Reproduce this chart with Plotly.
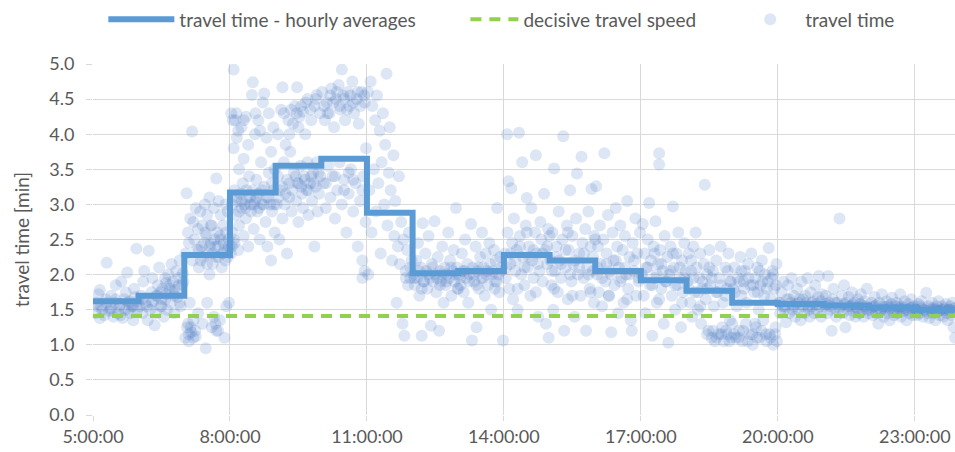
import plotly.graph_objects as go

# ---------------- data ----------------
hour_starts = [5, 6, 7, 8, 9, 10, 11, 12, 13, 14, 15, 16, 17, 18, 19, 20, 21, 22, 23]
hourly_avg = [1.62, 1.70, 2.28, 3.17, 3.55, 3.65, 2.88, 2.02, 2.05, 2.28, 2.20, 2.05,
              1.92, 1.77, 1.60, 1.58, 1.56, 1.53, 1.50]
decisive_value = 1.41
x_start, x_end = 5, 24

tick_hours = [5, 8, 11, 14, 17, 20, 23]
tick_labels = ["5:00:00", "8:00:00", "11:00:00", "14:00:00", "17:00:00", "20:00:00", "23:00:00"]
y_ticks = [0.0, 0.5, 1.0, 1.5, 2.0, 2.5, 3.0, 3.5, 4.0, 4.5, 5.0]

# travel time observations (hour of day, minutes), read per hour from the picture
obs_05 = [(5.05,1.45),(5.1,1.55),(5.12,1.72),(5.15,1.78),(5.2,1.5),(5.25,1.42),(5.3,2.17),(5.3,1.6),
          (5.35,1.48),(5.4,1.52),(5.45,1.4),(5.5,1.65),(5.5,1.85),(5.55,1.45),(5.6,1.58),(5.62,1.9),
          (5.65,1.38),(5.7,1.5),(5.72,1.75),(5.75,2.03),(5.8,1.62),(5.82,1.45),(5.85,1.55),(5.88,1.35),
          (5.9,1.8),(5.92,1.68),(5.95,2.37),(5.97,1.5),(5.4,1.7),(5.6,1.42),(5.15,1.38),(5.78,1.5)]
obs_06 = [(6.02,1.55),(6.05,1.7),(6.08,1.45),(6.1,1.9),(6.12,2.05),(6.15,1.6),(6.2,1.35),(6.22,2.34),
          (6.25,1.5),(6.28,1.75),(6.3,1.95),(6.32,1.62),(6.35,1.28),(6.38,1.45),(6.4,1.7),(6.42,1.85),
          (6.45,2.1),(6.48,1.55),(6.5,1.65),(6.52,1.8),(6.55,1.4),(6.58,1.95),(6.6,1.72),(6.62,1.5),
          (6.65,2.0),(6.68,1.85),(6.7,1.6),(6.72,2.15),(6.75,1.9),(6.78,1.45),(6.8,1.78),(6.82,2.05),
          (6.85,1.68),(6.88,1.95),(6.9,2.2),(6.92,1.55),(6.95,1.85),(6.97,2.02),(6.6,1.88),(6.75,1.75)]
obs_07 = [(7.02,1.1),(7.03,2.3),(7.05,3.16),(7.06,1.25),(7.08,2.6),(7.1,1.05),(7.1,2.45),(7.12,1.6),
          (7.13,2.8),(7.15,1.18),(7.17,4.04),(7.18,2.2),(7.2,1.35),(7.2,2.75),(7.22,2.5),(7.25,1.12),
          (7.25,2.95),(7.28,2.35),(7.3,1.45),(7.3,2.65),(7.32,2.1),(7.35,2.9),(7.38,2.4),(7.4,1.3),
          (7.4,2.7),(7.42,2.25),(7.45,3.0),(7.47,0.95),(7.48,2.55),(7.5,1.6),(7.5,2.85),(7.52,2.3),
          (7.55,2.0),(7.55,3.1),(7.58,2.45),(7.6,1.25),(7.6,2.7),(7.62,2.15),(7.65,2.95),(7.65,1.4),
          (7.68,2.4),(7.7,3.37),(7.7,1.2),(7.72,2.6),(7.75,2.25),(7.75,3.05),(7.78,1.35),(7.8,2.5),
          (7.8,2.85),(7.82,2.1),(7.85,2.7),(7.88,1.1),(7.88,2.35),(7.9,3.0),(7.92,1.55),(7.92,2.6),
          (7.95,2.25),(7.95,2.9),(7.98,1.6),(7.98,2.4)]
obs_08 = [(8.02,2.3),(8.03,4.3),(8.05,3.0),(8.05,2.6),(8.08,4.92),(8.08,3.8),(8.1,2.45),(8.1,3.2),
          (8.12,4.2),(8.12,2.85),(8.15,3.95),(8.15,3.05),(8.18,2.35),(8.18,4.05),(8.2,3.5),(8.2,2.7),
          (8.22,3.15),(8.25,4.1),(8.25,2.95),(8.28,3.3),(8.3,2.55),(8.3,3.65),(8.32,3.0),(8.35,4.25),
          (8.35,2.8),(8.38,3.1),(8.4,3.85),(8.4,2.4),(8.42,3.4),(8.45,3.0),(8.48,4.56),(8.5,4.74),
          (8.5,3.2),(8.52,2.65),(8.55,3.05),(8.55,4.0),(8.58,3.35),(8.6,2.9),(8.62,4.2),(8.62,3.15),
          (8.65,2.5),(8.68,3.6),(8.7,3.0),(8.72,4.45),(8.75,4.58),(8.75,3.25),(8.78,2.75),(8.8,3.95),
          (8.8,3.1),(8.82,2.4),(8.85,4.3),(8.85,3.45),(8.88,3.0),(8.9,2.2),(8.9,3.75),(8.92,2.9),
          (8.95,3.2),(8.95,4.1),(8.98,2.6),(8.98,3.5)]
obs_09 = [(9.02,3.0),(9.05,3.4),(9.05,4.0),(9.08,2.5),(9.1,3.2),(9.12,4.35),(9.15,2.8),(9.15,4.67),
          (9.18,3.6),(9.2,3.0),(9.22,3.85),(9.25,2.3),(9.25,3.35),(9.28,4.2),(9.3,3.1),(9.32,3.75),
          (9.35,2.9),(9.38,4.15),(9.4,3.45),(9.42,4.4),(9.45,3.05),(9.47,4.67),(9.48,3.3),(9.5,2.75),
          (9.52,4.25),(9.55,3.55),(9.58,3.15),(9.6,4.32),(9.6,2.95),(9.62,3.4),(9.65,4.0),(9.68,3.2),
          (9.7,4.5),(9.7,3.6),(9.72,2.85),(9.75,3.3),(9.78,4.2),(9.8,3.05),(9.82,3.45),(9.85,4.4),
          (9.85,2.4),(9.88,3.25),(9.9,4.56),(9.9,3.6),(9.92,2.9),(9.95,3.15),(9.97,4.3),(9.98,3.4)]
obs_10 = [(10.02,4.6),(10.05,3.3),(10.08,4.2),(10.1,2.95),(10.12,4.45),(10.15,3.55),(10.18,4.3),
          (10.2,3.1),(10.22,4.65),(10.25,3.4),(10.28,4.1),(10.3,2.8),(10.32,4.5),(10.35,3.2),
          (10.38,4.7),(10.4,3.6),(10.42,4.35),(10.45,4.92),(10.45,3.0),(10.48,4.55),(10.5,3.35),
          (10.52,4.2),(10.55,2.6),(10.58,4.6),(10.6,3.15),(10.62,4.4),(10.65,3.5),(10.68,4.75),
          (10.7,2.9),(10.72,4.3),(10.75,3.3),(10.78,4.5),(10.8,2.4),(10.82,4.15),(10.85,3.05),
          (10.88,4.6),(10.9,2.2),(10.92,3.4),(10.95,4.45),(10.97,2.75),(10.98,3.8),(10.9,1.95),(10.95,2.05)]
obs_11 = [(11.02,4.6),(11.03,2.0),(11.05,3.2),(11.08,4.75),(11.1,2.6),(11.12,4.4),(11.15,3.5),
          (11.18,4.2),(11.2,2.9),(11.22,4.55),(11.25,3.3),(11.28,4.05),(11.3,2.3),(11.32,3.6),
          (11.35,4.3),(11.38,3.0),(11.4,3.85),(11.43,4.86),(11.45,2.7),(11.48,3.45),(11.5,4.1),
          (11.52,3.2),(11.55,2.2),(11.58,3.7),(11.6,2.55),(11.62,3.05),(11.65,1.6),(11.68,2.4),
          (11.7,3.4),(11.72,2.15),(11.75,2.75),(11.78,1.3),(11.8,2.5),(11.82,1.13),(11.85,2.05),
          (11.88,2.35),(11.9,1.85),(11.92,2.6),(11.95,1.95),(11.98,2.2)]
obs_12 = [(12.02,2.0),(12.05,1.85),(12.08,2.2),(12.1,1.95),(12.12,2.45),(12.15,1.7),(12.18,2.1),
          (12.2,1.13),(12.22,2.73),(12.25,1.9),(12.28,2.3),(12.3,2.05),(12.32,1.8),(12.35,2.55),
          (12.38,1.95),(12.4,1.27),(12.42,2.15),(12.45,1.9),(12.48,2.76),(12.5,2.0),(12.52,1.75),
          (12.55,2.25),(12.58,1.2),(12.6,2.05),(12.62,1.9),(12.65,2.4),(12.68,1.6),(12.7,2.1),
          (12.72,1.85),(12.75,2.0),(12.78,2.6),(12.8,1.95),(12.82,2.2),(12.85,1.7),(12.88,2.05),
          (12.9,2.35),(12.92,1.9),(12.95,2.95),(12.97,2.1),(12.98,1.8)]
obs_13 = [(13.02,2.0),(13.05,1.85),(13.08,2.3),(13.1,2.05),(13.12,1.75),(13.15,2.5),(13.18,1.95),
          (13.2,2.15),(13.22,1.6),(13.25,2.0),(13.28,2.72),(13.3,1.06),(13.32,2.1),(13.35,1.9),
          (13.38,2.4),(13.4,1.25),(13.42,2.05),(13.45,1.8),(13.48,2.25),(13.5,1.95),(13.52,2.6),
          (13.55,2.1),(13.58,1.7),(13.6,2.3),(13.62,2.0),(13.65,1.85),(13.68,2.45),(13.7,2.15),
          (13.72,1.5),(13.75,2.05),(13.78,2.35),(13.8,1.9),(13.82,2.2),(13.85,2.95),(13.88,2.0),
          (13.9,1.75),(13.92,2.25),(13.95,2.1),(13.98,1.06)]
obs_14 = [(14.02,2.3),(14.04,1.95),(14.07,4.0),(14.08,2.6),(14.1,3.33),(14.12,1.8),(14.14,2.15),
          (14.16,3.23),(14.18,2.45),(14.2,1.65),(14.22,2.8),(14.25,2.05),(14.28,2.35),(14.3,1.5),
          (14.33,4.02),(14.35,2.55),(14.38,2.0),(14.4,3.6),(14.42,2.25),(14.45,1.85),(14.48,2.7),
          (14.5,3.09),(14.52,2.1),(14.55,2.4),(14.58,1.7),(14.6,2.95),(14.62,2.2),(14.65,1.95),
          (14.68,2.6),(14.7,3.7),(14.72,2.3),(14.75,1.4),(14.78,2.05),(14.8,2.75),(14.82,2.5),
          (14.85,1.9),(14.88,3.15),(14.9,2.35),(14.92,1.3),(14.95,2.15),(14.97,2.65),(14.98,1.1)]
obs_15 = [(15.02,2.2),(15.04,1.85),(15.06,2.6),(15.08,1.5),(15.1,3.51),(15.12,2.05),(15.15,2.4),
          (15.18,1.75),(15.2,2.9),(15.22,2.2),(15.25,1.95),(15.28,2.5),(15.3,3.97),(15.32,1.2),
          (15.35,2.1),(15.38,2.7),(15.4,1.65),(15.42,2.35),(15.45,3.2),(15.48,1.9),(15.5,2.55),
          (15.52,2.15),(15.55,1.4),(15.58,2.8),(15.6,3.44),(15.62,2.0),(15.65,2.3),(15.68,1.7),
          (15.7,3.68),(15.72,2.45),(15.75,1.95),(15.78,2.65),(15.8,1.2),(15.82,2.1),(15.85,2.9),
          (15.88,1.8),(15.9,2.4),(15.92,3.22),(15.95,2.05),(15.97,1.6),(15.98,2.55)]
obs_16 = [(16.02,3.26),(16.04,2.0),(16.06,2.4),(16.08,1.75),(16.1,2.7),(16.12,2.15),(16.15,1.55),
          (16.18,2.5),(16.2,3.73),(16.22,1.9),(16.25,2.3),(16.28,2.85),(16.3,1.7),(16.32,2.05),
          (16.35,1.18),(16.38,2.6),(16.4,2.2),(16.42,1.85),(16.45,2.95),(16.48,2.4),(16.5,1.45),
          (16.52,2.1),(16.55,2.7),(16.58,1.95),(16.6,2.35),(16.62,1.6),(16.65,2.55),(16.68,2.0),
          (16.7,3.05),(16.72,1.8),(16.75,2.25),(16.78,1.35),(16.8,1.2),(16.82,2.45),(16.85,2.05),
          (16.88,2.8),(16.9,1.7),(16.92,2.3),(16.95,1.9),(16.98,2.6)]
obs_17 = [(17.02,2.0),(17.04,2.72),(17.06,1.7),(17.08,2.3),(17.1,1.45),(17.12,2.1),(17.15,2.5),
          (17.18,3.02),(17.2,1.85),(17.22,2.2),(17.25,1.13),(17.28,2.4),(17.3,1.95),(17.32,2.76),
          (17.35,1.6),(17.38,2.15),(17.4,3.73),(17.4,3.57),(17.42,2.35),(17.45,1.8),(17.48,2.05),
          (17.5,1.3),(17.52,2.55),(17.55,1.9),(17.58,2.25),(17.6,1.03),(17.62,2.0),(17.65,2.4),
          (17.68,1.7),(17.7,2.97),(17.72,2.1),(17.75,1.5),(17.78,2.3),(17.8,1.85),(17.82,2.6),
          (17.85,1.95),(17.88,1.25),(17.9,2.2),(17.92,1.75),(17.95,2.45),(17.98,2.05)]
obs_18 = [(18.02,1.9),(18.05,2.3),(18.08,1.6),(18.1,2.05),(18.12,1.4),(18.15,2.4),(18.18,1.75),
          (18.2,2.6),(18.22,2.1),(18.25,1.5),(18.28,1.95),(18.3,2.3),(18.32,1.3),(18.35,1.8),
          (18.38,2.15),(18.4,3.28),(18.42,1.65),(18.45,2.0),(18.48,1.2),(18.5,2.35),(18.52,1.85),
          (18.55,1.1),(18.58,2.05),(18.6,1.55),(18.62,1.05),(18.65,2.2),(18.68,1.75),(18.7,1.15),
          (18.72,1.95),(18.75,2.4),(18.78,1.25),(18.8,1.6),(18.82,1.05),(18.85,2.1),(18.88,1.8),
          (18.9,1.15),(18.92,2.3),(18.95,1.35),(18.97,1.9),(18.98,1.1)]
obs_19 = [(19.02,1.8),(19.05,2.1),(19.08,1.1),(19.1,1.55),(19.12,1.95),(19.15,1.2),(19.18,2.25),
          (19.2,1.7),(19.22,1.05),(19.25,1.9),(19.28,2.05),(19.3,1.3),(19.32,1.6),(19.35,2.15),
          (19.38,1.15),(19.4,1.85),(19.42,2.3),(19.45,1.0),(19.48,1.75),(19.5,1.95),(19.52,1.25),
          (19.55,2.1),(19.58,1.5),(19.6,1.1),(19.62,1.85),(19.65,2.2),(19.68,1.35),(19.7,1.7),
          (19.72,2.0),(19.75,1.05),(19.78,1.9),(19.8,2.38),(19.82,1.15),(19.85,1.65),(19.88,2.05),
          (19.9,1.0),(19.92,1.8),(19.95,1.25),(19.97,2.15),(19.98,1.05)]
obs_20 = [(20.02,1.6),(20.05,1.45),(20.08,1.75),(20.1,1.55),(20.12,1.9),(20.15,1.5),(20.18,1.32),
          (20.2,1.65),(20.22,1.85),(20.25,1.45),(20.28,1.6),(20.3,1.95),(20.32,1.5),(20.35,1.7),
          (20.38,1.4),(20.4,1.58),(20.42,1.8),(20.45,1.5),(20.48,1.65),(20.5,1.35),(20.52,1.9),
          (20.55,1.55),(20.58,1.45),(20.6,1.7),(20.62,1.6),(20.65,1.95),(20.68,1.5),(20.7,1.4),
          (20.72,1.75),(20.75,1.55),(20.78,1.62),(20.8,1.45),(20.82,1.85),(20.85,1.5),(20.88,1.68),
          (20.9,1.98),(20.92,1.55),(20.95,1.4),(20.97,1.72)]
obs_21 = [(21.02,1.55),(21.05,1.7),(21.08,1.45),(21.1,1.98),(21.12,1.6),(21.15,1.5),(21.18,1.2),
          (21.2,1.65),(21.22,1.8),(21.25,1.52),(21.28,1.4),(21.3,1.6),(21.35,2.8),(21.38,1.55),
          (21.4,1.7),(21.42,1.45),(21.45,1.85),(21.48,1.25),(21.5,1.6),(21.52,1.5),(21.55,1.68),
          (21.58,1.42),(21.6,1.55),(21.62,1.75),(21.65,1.48),(21.68,1.6),(21.7,1.4),(21.72,1.53),
          (21.75,1.65),(21.78,1.45),(21.8,1.58),(21.82,1.72),(21.85,1.5),(21.88,1.4),(21.9,1.62),
          (21.92,1.55),(21.95,1.8),(21.98,1.45)]
obs_22 = [(22.02,1.5),(22.05,1.6),(22.08,1.42),(22.1,1.55),(22.12,1.68),(22.15,1.45),(22.18,1.52),
          (22.2,1.3),(22.22,1.6),(22.25,1.48),(22.28,1.72),(22.3,1.55),(22.32,1.4),(22.35,1.5),
          (22.38,1.62),(22.4,1.45),(22.42,1.55),(22.45,1.35),(22.48,1.58),(22.5,1.67),(22.52,1.48),
          (22.55,1.42),(22.58,1.55),(22.6,1.6),(22.62,1.45),(22.65,1.52),(22.68,1.72),(22.7,1.4),
          (22.72,1.55),(22.75,1.48),(22.78,1.62),(22.8,1.5),(22.82,1.35),(22.85,1.58),(22.88,1.45),
          (22.9,1.52),(22.92,1.65),(22.95,1.42),(22.98,1.55)]
obs_23 = [(23.02,1.5),(23.05,1.42),(23.08,1.58),(23.1,1.45),(23.12,1.55),(23.15,1.62),(23.18,1.4),
          (23.2,1.5),(23.25,1.74),(23.28,1.45),(23.3,1.55),(23.32,1.38),(23.35,1.5),(23.38,1.6),
          (23.4,1.45),(23.42,1.52),(23.45,1.35),(23.48,1.55),(23.5,1.48),(23.52,1.62),(23.55,1.42),
          (23.58,1.5),(23.6,1.55),(23.62,1.4),(23.65,1.5),(23.68,1.58),(23.7,1.45),(23.72,1.35),
          (23.75,1.5),(23.78,1.55),(23.8,1.42),(23.82,1.6),(23.85,1.25),(23.85,1.48),(23.88,1.1),
          (23.9,1.52)]

# denser cores of the point cloud
core_05 = [(5.08,1.6),(5.18,1.55),(5.28,1.65),(5.38,1.5),(5.48,1.6),(5.58,1.55),(5.68,1.65),(5.78,1.6),
           (5.88,1.55),(5.98,1.62),(6.08,1.65),(6.18,1.55),(6.28,1.6),(6.38,1.7),(6.48,1.75),(6.58,1.65),
           (6.68,1.8),(6.78,1.7),(6.88,1.85),(6.98,1.9),(6.5,1.55),(6.9,1.6)]
core_07 = [(7.32,2.35),(7.36,2.2),(7.44,2.45),(7.5,2.15),(7.56,2.4),(7.62,2.3),(7.66,2.5),(7.7,2.25),
           (7.74,2.4),(7.78,2.55),(7.84,2.3),(7.86,2.45),(7.9,2.2),(7.94,2.35),(7.97,2.5),(7.46,2.6),
           (7.58,2.7),(7.1,1.15),(7.14,1.25),(7.2,1.1),(7.08,1.3),(7.24,1.2),(7.68,1.3),(7.74,1.2)]
core_08 = [(8.04,2.4),(8.08,2.5),(8.14,3.1),(8.2,2.9),(8.26,3.05),(8.34,2.95),(8.36,3.2),(8.44,3.1),
           (8.46,2.9),(8.52,3.0),(8.58,3.1),(8.64,2.95),(8.7,3.2),(8.74,3.0),(8.84,3.1),(8.92,3.3),
           (8.96,3.0),(8.3,4.2),(8.56,4.3),(8.66,4.05),(8.14,4.3),(8.06,4.2)]
core_09 = [(9.06,3.1),(9.14,3.25),(9.22,3.15),(9.3,3.3),(9.36,3.2),(9.44,3.4),(9.5,3.3),(9.56,3.25),
           (9.64,3.35),(9.72,3.2),(9.78,3.4),(9.84,3.3),(9.94,3.45),(9.18,4.3),(9.34,4.35),(9.46,4.3),
           (9.56,4.4),(9.66,4.45),(9.76,4.35),(9.88,4.5),(9.3,4.0),(9.5,4.1)]
core_10 = [(10.06,4.4),(10.14,4.3),(10.2,4.55),(10.26,4.45),(10.34,4.6),(10.4,4.4),(10.5,4.5),
           (10.56,4.35),(10.64,4.55),(10.7,4.45),(10.8,4.6),(10.86,4.4),(10.94,4.55),(10.1,3.3),
           (10.3,3.4),(10.5,3.2),(10.7,3.35),(10.9,3.2),(10.6,3.45)]
core_12 = [(11.85,1.95),(11.95,2.1),(12.04,1.95),(12.14,2.05),(12.24,1.9),(12.34,2.0),(12.44,2.1),
           (12.54,1.95),(12.64,2.0),(12.74,1.9),(12.84,2.1),(12.94,2.0),(13.04,1.95),(13.14,2.05),
           (13.24,1.9),(13.34,2.0),(13.44,2.1),(13.54,1.95),(13.64,2.05),(13.74,2.0),(13.84,1.9),
           (13.94,2.05),(12.2,1.8),(12.6,1.85),(13.0,1.8),(13.4,1.85),(13.8,1.8)]
core_14 = [(14.05,2.1),(14.15,2.3),(14.25,2.2),(14.35,2.4),(14.45,2.1),(14.55,2.25),(14.65,2.35),
           (14.75,2.15),(14.85,2.3),(14.95,2.4),(15.05,2.05),(15.15,2.25),(15.25,2.15),(15.35,2.35),
           (15.45,2.0),(15.55,2.2),(15.65,2.1),(15.75,2.3),(15.85,2.0),(15.95,2.25),(16.05,2.1),
           (16.15,1.95),(16.25,2.15),(16.35,2.0),(16.45,2.2),(16.55,1.9),(16.65,2.1),(16.75,2.0),
           (16.85,2.2),(16.95,1.95),(14.3,1.8),(14.7,1.75),(15.1,1.8),(15.5,1.7),(15.9,1.75),
           (16.3,1.7),(16.7,1.65),(14.5,2.6),(15.0,2.55),(15.4,2.6),(16.0,2.5)]
core_17 = [(17.05,1.95),(17.15,2.1),(17.25,1.85),(17.35,2.0),(17.45,2.15),(17.55,1.9),(17.65,2.05),
           (17.75,1.85),(17.85,2.1),(17.95,1.95),(18.05,1.8),(18.15,1.95),(18.25,1.75),(18.35,1.9),
           (18.45,1.8),(18.55,1.95),(18.65,1.75),(18.75,1.85),(18.85,1.7),(18.95,1.9),(17.3,2.3),
           (17.7,2.3),(18.1,2.2),(18.5,2.1),(18.9,2.05),(17.4,1.65),(17.9,1.6),(18.3,1.55)]
core_low = [(18.45,1.15),(18.58,1.2),(18.66,1.1),(18.76,1.15),(18.86,1.2),(18.94,1.05),(19.04,1.15),
            (19.14,1.1),(19.24,1.2),(19.34,1.05),(19.44,1.15),(19.54,1.1),(19.64,1.2),(19.74,1.15),
            (19.84,1.1),(19.94,1.15),(19.5,1.3),(19.0,1.3)]
core_19 = [(19.06,1.75),(19.16,1.9),(19.26,1.8),(19.36,1.95),(19.46,1.85),(19.56,1.75),(19.66,1.9),
           (19.76,1.8),(19.86,1.95),(19.96,1.85),(19.2,2.05),(19.6,2.05),(19.9,2.0)]
core_20 = [(20.05,1.6),(20.15,1.55),(20.25,1.65),(20.35,1.55),(20.45,1.6),(20.55,1.65),(20.65,1.55),
           (20.75,1.6),(20.85,1.58),(20.95,1.62),(21.05,1.58),(21.15,1.55),(21.25,1.6),(21.35,1.52),
           (21.45,1.58),(21.55,1.55),(21.65,1.58),(21.75,1.52),(21.85,1.56),(21.95,1.5),(22.05,1.53),
           (22.15,1.56),(22.25,1.5),(22.35,1.54),(22.45,1.52),(22.55,1.5),(22.65,1.55),(22.75,1.52),
           (22.85,1.5),(22.95,1.53),(23.05,1.5),(23.15,1.52),(23.25,1.48),(23.35,1.52),(23.45,1.5),
           (23.55,1.48),(23.65,1.52),(23.75,1.5),(23.85,1.52)]

observations = (obs_05 + obs_06 + obs_07 + obs_08 + obs_09 + obs_10 + obs_11 + obs_12 + obs_13 +
                obs_14 + obs_15 + obs_16 + obs_17 + obs_18 + obs_19 + obs_20 + obs_21 + obs_22 + obs_23 +
                core_05 + core_07 + core_08 + core_09 + core_10 + core_12 + core_14 + core_17 +
                core_low + core_19 + core_20)
obs_t = [p[0] for p in observations]
obs_v = [p[1] for p in observations]

# ---------------- figure ----------------
FONT = "Lato, 'Open Sans', sans-serif"
TXT = "#595959"
GRID = "#d9d9d9"
LEG_Y = 1.127

fig = go.Figure()

fig.add_trace(go.Scatter(
    x=obs_t, y=obs_v, mode="markers", name="travel time", legend="legend3",
    marker=dict(size=12, color="rgba(68,114,196,0.18)", line=dict(width=0))))

fig.add_trace(go.Scatter(
    x=hour_starts + [x_end], y=hourly_avg + [hourly_avg[-1]],
    mode="lines", line=dict(shape="hv", color="#5b9bd5", width=6),
    name="travel time - hourly averages", legend="legend"))

fig.add_trace(go.Scatter(
    x=[x_start, x_end], y=[decisive_value, decisive_value],
    mode="lines", line=dict(color="#92d050", width=4, dash="11px,8px"),
    name="decisive travel speed", legend="legend2"))

leg_common = dict(orientation="h", y=LEG_Y, yanchor="middle", xanchor="left",
                  font=dict(family=FONT, size=19, color=TXT), bgcolor="rgba(0,0,0,0)",
                  borderwidth=0)

fig.update_layout(
    width=955, height=452,
    margin=dict(l=93, r=0, t=62, b=37),
    paper_bgcolor="white", plot_bgcolor="white",
    font=dict(family=FONT, size=18, color=TXT),
    showlegend=True,
    legend=dict(x=0.012, itemwidth=66, **leg_common),
    legend2=dict(x=0.432, itemwidth=48, **leg_common),
    legend3=dict(x=0.745, itemwidth=60, **leg_common),
)

fig.update_xaxes(
    range=[5, 23.88], tickmode="array", tickvals=tick_hours, ticktext=tick_labels,
    showgrid=True, gridcolor=GRID, gridwidth=1, zeroline=False,
    showline=False, ticks="outside", ticklen=5, tickcolor=GRID,
    tickfont=dict(family=FONT, size=18, color=TXT))

fig.update_yaxes(
    range=[0, 5], tickmode="array", tickvals=y_ticks,
    ticktext=[f"{v:.1f}" for v in y_ticks],
    showgrid=True, gridcolor=GRID, gridwidth=1, zeroline=False,
    showline=False, ticks="outside", ticklen=6, tickcolor=GRID,
    ticklabelstandoff=8,
    tickfont=dict(family=FONT, size=18, color=TXT),
    title=dict(text="travel time [min]", font=dict(family=FONT, size=19, color=TXT), standoff=14))

fig.write_html("out.html", config={"displayModeBar": False},
               post_script="document.body.style.margin='0px';")
